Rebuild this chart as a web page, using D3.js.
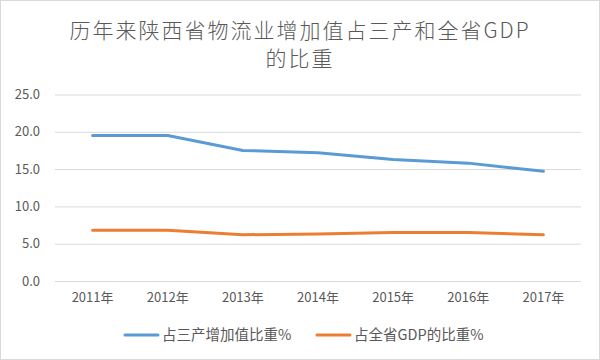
<!DOCTYPE html>
<html><head><meta charset="utf-8">
<script src="https://cdn.jsdelivr.net/npm/d3@7"></script>
<style>html,body{margin:0;padding:0;background:#fff;}svg{display:block;}</style>
</head><body>
<svg id="c" width="600" height="360"></svg>
<script>
const categories = ["2011年","2012年","2013年","2014年","2015年","2016年","2017年"];
const seriesNames = ["占三产增加值比重%","占全省GDP的比重%"];
const tertiaryShare = [19.5,19.5,17.5,17.2,16.3,15.8,14.7];
const gdpShare = [6.8,6.8,6.2,6.3,6.5,6.5,6.2];
const yTicks = [0,5,10,15,20,25];
const titleLines = ["历年来陕西省物流业增加值占三产和全省GDP","的比重"];

const svg = d3.select("#c");
const font = "'Noto Sans CJK SC','Noto Sans',sans-serif";
const textColor = "#595959";
const colors = ["#5B9BD5","#ED7D31"];

svg.append("rect").attr("x",0.5).attr("y",0.5).attr("width",599).attr("height",359)
  .attr("fill","#fff").attr("stroke","#d9d9d9");

const x = d3.scaleBand().domain(categories).range([55,581]);
const y = d3.scaleLinear().domain([0,25]).range([281,94.5]);

// title
svg.append("g").selectAll("text").data(titleLines).join("text")
  .attr("x",300).attr("y",(d,i)=>38+i*28)
  .attr("text-anchor","middle").attr("font-family",font).attr("font-size",21).attr("font-weight",300)
  .attr("letter-spacing",2).attr("fill",textColor).text(d=>d);

// y axis
const yAxis = svg.append("g").attr("transform","translate(55,0)")
  .call(d3.axisLeft(y).tickValues(yTicks).tickFormat(d3.format(".1f")).tickSize(-526).tickPadding(15));
yAxis.select(".domain").remove();
yAxis.selectAll(".tick line").attr("stroke","#d9d9d9").attr("stroke-width",1);
yAxis.selectAll(".tick text").attr("font-family",font).attr("font-size",13).attr("fill",textColor);

// x axis
const xAxis = svg.append("g").attr("transform","translate(0,281)")
  .call(d3.axisBottom(x).tickSize(0).tickPadding(12));
xAxis.select(".domain").remove();
xAxis.selectAll(".tick text").attr("font-family",font).attr("font-size",13).attr("fill",textColor);

const line = d3.line().x((d,i)=>x(categories[i])+x.bandwidth()/2).y(d=>y(d));
[tertiaryShare,gdpShare].forEach((s,k)=>{
  svg.append("path").datum(s).attr("d",line).attr("fill","none")
    .attr("stroke",colors[k]).attr("stroke-width",3).attr("stroke-linecap","round").attr("stroke-linejoin","round");
});

// legend
const legendX = [125,317];
const lg = svg.append("g").selectAll("g").data(seriesNames).join("g")
  .attr("transform",(d,i)=>`translate(${legendX[i]},335)`);
lg.append("line").attr("x1",0).attr("x2",33).attr("y1",0).attr("y2",0)
  .attr("stroke",(d,i)=>colors[i]).attr("stroke-width",3).attr("stroke-linecap","round");
lg.append("text").attr("x",37).attr("y",0).attr("dy","0.35em")
  .attr("font-family",font).attr("font-size",14.5).attr("fill",textColor).text(d=>d);
</script>
</body></html>
